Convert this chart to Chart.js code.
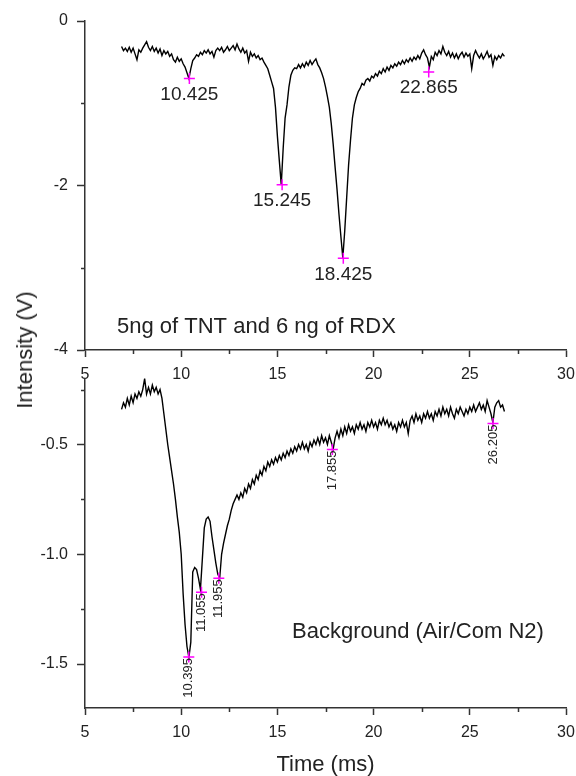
<!DOCTYPE html>
<html>
<head>
<meta charset="utf-8">
<script src="https://cdn.jsdelivr.net/npm/chart.js@4.4.1/dist/chart.umd.min.js"></script>
<style>
  body { margin: 0; background: #fff; }
  #wrap { position: relative; width: 576px; height: 776px; overflow: hidden; }
  #wrap canvas { position: absolute; left: 0; }
  #ytitle {
    position: absolute; left: 25px; top: 350px;
    transform: translate(-50%, -50%) rotate(-90deg);
    font: 22px "Liberation Sans", Arial, sans-serif; color: #222; white-space: nowrap;
  }
</style>
</head>
<body>
<div id="wrap">
  <canvas id="topPanel" width="576" height="390" style="top:0;width:576px;height:390px"></canvas>
  <canvas id="bottomPanel" width="576" height="416" style="top:360px;width:576px;height:416px"></canvas>
  <div id="ytitle">Intensity (V)</div>
</div>
<script>
// time axis (ms), shared by both traces
const time = [
  6.9, 7.0, 7.1, 7.2, 7.3, 7.4, 7.5, 7.6, 7.7, 7.8,
  7.9, 8.0, 8.1, 8.2, 8.3, 8.4, 8.5, 8.6, 8.7, 8.8,
  8.9, 9.0, 9.1, 9.2, 9.3, 9.4, 9.5, 9.6, 9.7, 9.8,
  9.9, 10.0, 10.1, 10.2, 10.3, 10.4, 10.5, 10.6, 10.7, 10.8,
  10.9, 11.0, 11.1, 11.2, 11.3, 11.4, 11.5, 11.6, 11.7, 11.8,
  11.9, 12.0, 12.1, 12.2, 12.3, 12.4, 12.5, 12.6, 12.7, 12.8,
  12.9, 13.0, 13.1, 13.2, 13.3, 13.4, 13.5, 13.6, 13.7, 13.8,
  13.9, 14.0, 14.1, 14.2, 14.3, 14.4, 14.5, 14.6, 14.7, 14.8,
  14.9, 15.0, 15.1, 15.2, 15.3, 15.4, 15.5, 15.6, 15.7, 15.8,
  15.9, 16.0, 16.1, 16.2, 16.3, 16.4, 16.5, 16.6, 16.7, 16.8,
  16.9, 17.0, 17.1, 17.2, 17.3, 17.4, 17.5, 17.6, 17.7, 17.8,
  17.9, 18.0, 18.1, 18.2, 18.3, 18.4, 18.5, 18.6, 18.7, 18.8,
  18.9, 19.0, 19.1, 19.2, 19.3, 19.4, 19.5, 19.6, 19.7, 19.8,
  19.9, 20.0, 20.1, 20.2, 20.3, 20.4, 20.5, 20.6, 20.7, 20.8,
  20.9, 21.0, 21.1, 21.2, 21.3, 21.4, 21.5, 21.6, 21.7, 21.8,
  21.9, 22.0, 22.1, 22.2, 22.3, 22.4, 22.5, 22.6, 22.7, 22.8,
  22.9, 23.0, 23.1, 23.2, 23.3, 23.4, 23.5, 23.6, 23.7, 23.8,
  23.9, 24.0, 24.1, 24.2, 24.3, 24.4, 24.5, 24.6, 24.7, 24.8,
  24.9, 25.0, 25.1, 25.2, 25.3, 25.4, 25.5, 25.6, 25.7, 25.8,
  25.9, 26.0, 26.1, 26.2, 26.3, 26.4, 26.5, 26.6, 26.7, 26.8
];

// 5ng TNT + 6ng RDX (V)
const sampleSignal = [
  -0.31, -0.36, -0.33, -0.37, -0.32, -0.38, -0.33, -0.40, -0.47, -0.35,
  -0.38, -0.33, -0.29, -0.25, -0.32, -0.36, -0.31, -0.37, -0.33, -0.39,
  -0.34, -0.42, -0.36, -0.40, -0.37, -0.43, -0.40, -0.47, -0.50, -0.44,
  -0.49, -0.46, -0.52, -0.56, -0.63, -0.70, -0.58, -0.48, -0.45, -0.41,
  -0.43, -0.38, -0.41, -0.36, -0.39, -0.35, -0.40, -0.37, -0.44, -0.36,
  -0.33, -0.36, -0.32, -0.38, -0.35, -0.31, -0.36, -0.33, -0.30, -0.35,
  -0.28, -0.34, -0.38, -0.33, -0.39, -0.36, -0.49, -0.38, -0.43, -0.40,
  -0.45, -0.42, -0.47, -0.45, -0.50, -0.54, -0.58, -0.66, -0.74, -0.82,
  -1.05, -1.40, -1.70, -1.99, -1.55, -1.18, -1.02, -0.80, -0.66, -0.60,
  -0.57, -0.58, -0.53, -0.57, -0.52, -0.56, -0.50, -0.54, -0.48, -0.53,
  -0.49, -0.46, -0.53, -0.57, -0.63, -0.70, -0.80, -0.92, -1.05, -1.25,
  -1.50, -1.78, -2.05, -2.35, -2.62, -2.88, -2.55, -2.15, -1.75, -1.45,
  -1.18, -1.02, -0.93, -0.86, -0.82, -0.76, -0.78, -0.72, -0.70, -0.73,
  -0.67, -0.69, -0.64, -0.67, -0.61, -0.64, -0.58, -0.62, -0.56, -0.60,
  -0.54, -0.57, -0.52, -0.55, -0.50, -0.53, -0.48, -0.52, -0.47, -0.50,
  -0.45, -0.49, -0.44, -0.47, -0.42, -0.46, -0.39, -0.35, -0.41, -0.45,
  -0.56, -0.43, -0.47, -0.38, -0.42, -0.36, -0.40, -0.31, -0.38, -0.42,
  -0.37, -0.44, -0.39, -0.45, -0.40, -0.46, -0.41, -0.38, -0.44, -0.39,
  -0.43, -0.40, -0.58, -0.42, -0.36, -0.41, -0.45, -0.40, -0.46, -0.42,
  -0.37, -0.44, -0.41, -0.54, -0.43, -0.47, -0.42, -0.45, -0.40, -0.43
];

// background, air / commercial N2 (V)
const backgroundSignal = [
  -0.34, -0.31, -0.33, -0.29, -0.32, -0.28, -0.31, -0.27, -0.29, -0.26,
  -0.28, -0.25, -0.20, -0.27, -0.24, -0.27, -0.23, -0.26, -0.24, -0.27,
  -0.25, -0.29, -0.36, -0.43, -0.50, -0.56, -0.62, -0.68, -0.75, -0.83,
  -0.90, -1.00, -1.18, -1.32, -1.42, -1.47, -1.40, -1.08, -1.06, -1.07,
  -1.11, -1.16, -1.02, -0.88, -0.84, -0.83, -0.85, -0.92, -0.98, -1.04,
  -1.09, -1.11, -1.00, -0.95, -0.91, -0.87, -0.84, -0.80, -0.77, -0.75,
  -0.73, -0.75, -0.72, -0.74, -0.70, -0.72, -0.68, -0.70, -0.66, -0.68,
  -0.64, -0.66, -0.62, -0.64, -0.60, -0.62, -0.58, -0.60, -0.57, -0.59,
  -0.56, -0.58, -0.55, -0.57, -0.54, -0.56, -0.53, -0.55, -0.52, -0.54,
  -0.51, -0.53, -0.50, -0.52, -0.49, -0.52, -0.50, -0.53, -0.49, -0.51,
  -0.48, -0.50, -0.47, -0.50, -0.46, -0.49, -0.47, -0.50, -0.46, -0.49,
  -0.52, -0.47, -0.44, -0.47, -0.43, -0.46, -0.42, -0.45, -0.41, -0.44,
  -0.42, -0.45, -0.41, -0.43, -0.40, -0.43, -0.41, -0.44, -0.40, -0.42,
  -0.39, -0.42, -0.40, -0.43, -0.39, -0.41, -0.38, -0.41, -0.39, -0.42,
  -0.40, -0.43, -0.41, -0.44, -0.40, -0.42, -0.39, -0.42, -0.40, -0.45,
  -0.39, -0.37, -0.40, -0.36, -0.39, -0.37, -0.40, -0.36, -0.38, -0.35,
  -0.38, -0.36, -0.39, -0.35, -0.37, -0.34, -0.37, -0.33, -0.36, -0.34,
  -0.37, -0.33, -0.36, -0.38, -0.34, -0.36, -0.33, -0.35, -0.37, -0.34,
  -0.36, -0.33, -0.35, -0.32, -0.35, -0.33, -0.31, -0.34, -0.32, -0.35,
  -0.30, -0.33, -0.36, -0.40, -0.33, -0.31, -0.30, -0.33, -0.32, -0.35
];

// marked peaks
const samplePeakTimes = [10.425, 15.245, 18.425, 22.865];
const samplePeakValues = [-0.70, -1.99, -2.885, -0.62];
const bgPeakTimes = [10.395, 11.055, 11.955, 17.855, 26.205];
const bgPeakValues = [-1.468, -1.173, -1.109, -0.523, -0.405];

// axis ticks
const xTicks = [5, 10, 15, 20, 25, 30];
const xMinor = [7.5, 12.5, 17.5, 22.5, 27.5];
const yTicksTop = [0, -2, -4];
const yMinorTop = [-1, -3];
const yTicksBottom = [-0.5, -1.0, -1.5];
const yMinorBottom = [-0.25, -0.75, -1.25];

const FONT = '"Liberation Sans", Arial, sans-serif';
const INK = '#222';
const AXIS = '#333';

const pairs = (xs, ys) => xs.map((x, i) => ({ x: x, y: ys[i] }));

// short ticks between the labelled ones + peak labels + panel note
const extras = {
  id: 'extras',
  afterDraw(chart) {
    const o = chart.options.plugins.extras;
    const ctx = chart.ctx;
    const xs = chart.scales.x, ys = chart.scales.y;
    ctx.save();
    ctx.strokeStyle = AXIS;
    ctx.lineWidth = 1.5;
    ctx.beginPath();
    o.xMinor.forEach(v => {
      const px = Math.round(xs.getPixelForValue(v)) + 0.5;
      ctx.moveTo(px, xs.top); ctx.lineTo(px, xs.top + 4);
    });
    o.yMinor.forEach(v => {
      const py = Math.round(ys.getPixelForValue(v)) + 0.5;
      ctx.moveTo(ys.right - 4, py); ctx.lineTo(ys.right, py);
    });
    ctx.stroke();

    ctx.fillStyle = INK;
    const meta = chart.getDatasetMeta(1);
    meta.data.forEach((pt, i) => {
      const txt = o.peakTimes[i].toFixed(3);
      if (o.rotated) {
        ctx.save();
        ctx.translate(pt.x, pt.y + 1);
        ctx.rotate(-Math.PI / 2);
        ctx.font = '13px ' + FONT;
        ctx.textAlign = 'right';
        ctx.textBaseline = 'middle';
        ctx.fillText(txt, 0, 0);
        ctx.restore();
      } else {
        ctx.font = '19px ' + FONT;
        ctx.textAlign = 'center';
        ctx.textBaseline = 'middle';
        ctx.fillText(txt, pt.x, pt.y + 16);
      }
    });

    ctx.font = '22px ' + FONT;
    ctx.textAlign = 'left';
    ctx.textBaseline = 'alphabetic';
    ctx.fillText(o.note, chart.chartArea.left + o.noteDx, chart.chartArea.bottom - o.noteDy);
    ctx.restore();
  }
};

function panel(id, o) {
  return new Chart(document.getElementById(id), {
    type: 'line',
    data: {
      datasets: [
        {
          data: pairs(time, o.trace),
          borderColor: '#000',
          borderWidth: 1.4,
          pointRadius: 0,
          tension: 0,
          order: 1
        },
        {
          type: 'scatter',
          data: pairs(o.peakTimes, o.peakValues),
          pointStyle: 'cross',
          pointRadius: 5.5,
          borderColor: '#ff00ff',
          borderWidth: 1.5,
          order: 0
        }
      ]
    },
    options: {
      responsive: false,
      animation: false,
      layout: { padding: { top: o.padTop, right: 0, left: 0, bottom: 0 } },
      plugins: {
        legend: { display: false },
        tooltip: { enabled: false },
        extras: {
          xMinor: xMinor, yMinor: o.yMinor, peakTimes: o.peakTimes,
          rotated: o.rotated, note: o.note, noteDx: o.noteDx, noteDy: o.noteDy
        }
      },
      scales: {
        x: {
          type: 'linear',
          min: 5, max: 30,
          afterBuildTicks: s => { s.ticks = xTicks.map(v => ({ value: v })); },
          afterFit: s => { s.height = o.xHeight; s.paddingLeft = 0; s.paddingRight = 10; },
          grid: { drawOnChartArea: false, tickLength: 7, tickColor: AXIS, tickWidth: 1.5 },
          border: { color: AXIS, width: 1.5 },
          ticks: { color: INK, font: { family: FONT, size: 16 }, padding: 8, maxRotation: 0, autoSkip: false },
          title: {
            display: !!o.xTitle, text: o.xTitle || '', color: INK,
            font: { family: FONT, size: 22, lineHeight: 1 }, padding: { top: 0, bottom: 0 }
          }
        },
        y: {
          min: o.yMin, max: o.yMax,
          afterBuildTicks: s => { s.ticks = o.yTicks.map(v => ({ value: v })); },
          afterFit: s => { s.width = 85; },
          grid: { drawOnChartArea: false, tickLength: 8, tickColor: AXIS, tickWidth: 1.5 },
          border: { color: AXIS, width: 1.5 },
          ticks: { color: INK, font: { family: FONT, size: 16 }, padding: 9, callback: o.yFmt }
        }
      }
    },
    plugins: [extras]
  });
}

panel('topPanel', {
  trace: sampleSignal, peakTimes: samplePeakTimes, peakValues: samplePeakValues,
  yMin: -4, yMax: 0, yTicks: yTicksTop, yMinor: yMinorTop, yFmt: v => String(v),
  padTop: 21, xHeight: 40, rotated: false,
  note: '5ng of TNT and 6 ng of RDX', noteDx: 32, noteDy: 17
});

panel('bottomPanel', {
  trace: backgroundSignal, peakTimes: bgPeakTimes, peakValues: bgPeakValues,
  yMin: -1.7, yMax: -0.2, yTicks: yTicksBottom, yMinor: yMinorBottom, yFmt: v => v.toFixed(1),
  padTop: 18, xHeight: 68, rotated: true, xTitle: 'Time (ms)',
  note: 'Background (Air/Com N2)', noteDx: 207, noteDy: 70
});
</script>
</body>
</html>
